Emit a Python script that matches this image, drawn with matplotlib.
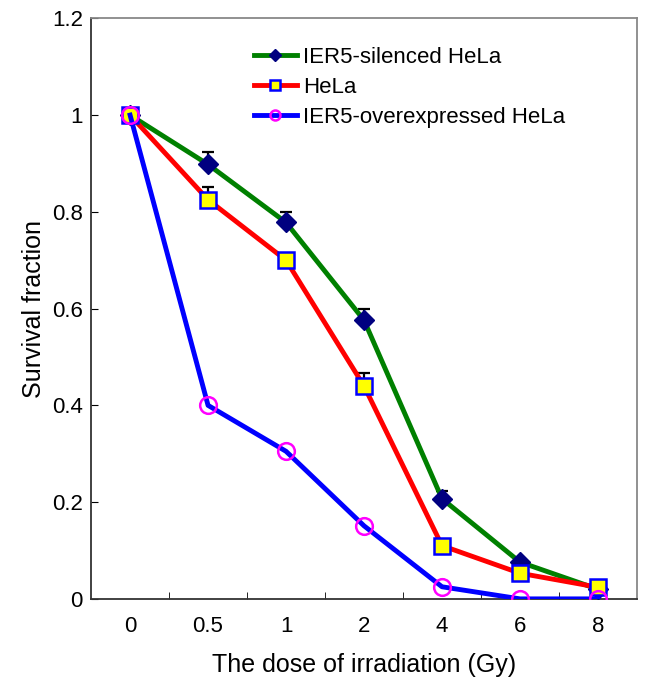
import numpy as np
import matplotlib
matplotlib.use('Agg')
import matplotlib.pyplot as plt
from matplotlib.ticker import FormatStrFormatter

plt.rcParams['font.family'] = ['Liberation Sans', 'DejaVu Sans']

doses = ['0', '0.5', '1', '2', '4', '6', '8']
silenced = [1.0, 0.898, 0.778, 0.576, 0.207, 0.076, 0.02]
silenced_err = [0.0, 0.026, 0.022, 0.023, 0.016, 0.0, 0.0]
hela = [1.0, 0.825, 0.70, 0.44, 0.11, 0.053, 0.024]
hela_err = [0.0, 0.026, 0.0, 0.027, 0.0, 0.0, 0.0]
over = [1.0, 0.40, 0.305, 0.151, 0.025, 0.0, 0.0]

x = np.arange(len(doses))

fig = plt.figure(figsize=(6.46, 6.79), dpi=100)
ax = fig.add_axes([0.141, 0.118, 0.845, 0.855])

# one-sided error bars (upper only)
ax.errorbar(x, silenced, yerr=[np.zeros(len(x)), silenced_err], fmt='none',
            ecolor='black', elinewidth=1.6, capsize=4, capthick=1.6, zorder=2)
ax.errorbar(x, hela, yerr=[np.zeros(len(x)), hela_err], fmt='none',
            ecolor='black', elinewidth=1.6, capsize=4, capthick=1.6, zorder=2)

ax.plot(x, silenced, color='#008000', lw=3.5, marker='D', ms=10.5,
        mfc='#000080', mec='#000080', label='IER5-silenced HeLa', zorder=3)
ax.plot(x, hela, color='#ff0000', lw=3.5, marker='s', ms=11.5,
        mfc='#ffff00', mec='#0000ff', mew=1.8, label='HeLa', zorder=4)
ax.plot(x, over, color='#0000ff', lw=3.5, marker='o', ms=12,
        mfc='none', mec='#ff00ff', mew=1.8, label='IER5-overexpressed HeLa', zorder=5)

ax.set_xlim(-0.5, 6.5)
ax.set_ylim(0, 1.2)
ax.set_xticks(x)
ax.set_xticklabels(doses)
ax.set_xticks(x[:-1] + 0.5, minor=True)
ax.tick_params(axis='x', which='major', length=0, pad=12, labelsize=16)
ax.tick_params(axis='x', which='minor', direction='in', length=5)
ax.set_yticks(np.arange(0, 1.21, 0.2))
ax.yaxis.set_major_formatter(FormatStrFormatter('%g'))
ax.tick_params(axis='y', direction='in', length=5, labelsize=16, pad=6)

for s in ['top', 'right']:
    ax.spines[s].set_color('#888888')
for s in ['left', 'bottom']:
    ax.spines[s].set_color('#333333')
for s in ax.spines.values():
    s.set_linewidth(1.3)

ax.set_xlabel('The dose of irradiation (Gy)', fontsize=18, labelpad=12)
ax.set_ylabel('Survival fraction', fontsize=18, labelpad=4)

ax.legend(loc='upper left', bbox_to_anchor=(0.38, 0.944), bbox_transform=fig.transFigure,
          frameon=False, fontsize=16, handlelength=1.9, handletextpad=0.3,
          labelspacing=0.4, borderaxespad=0, markerscale=0.6)

fig.savefig('out.png', dpi=100)
